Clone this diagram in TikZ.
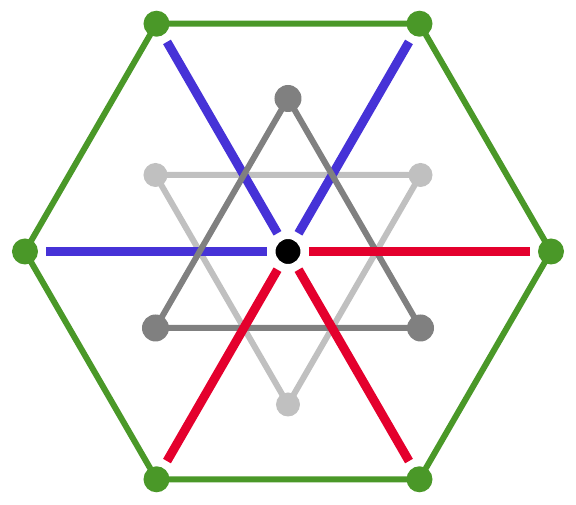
\documentclass[tikz,border=0pt]{standalone}
\usepackage{tikz}
\definecolor{vert}{RGB}{74,152,40}
\definecolor{bleu}{RGB}{70,50,215}
\definecolor{rouge}{RGB}{228,0,45}
\definecolor{grisf}{RGB}{128,128,128}
\definecolor{grisc}{RGB}{192,192,192}
\begin{document}
\begin{tikzpicture}[x=1pt,y=1pt]
\useasboundingbox (-288,-253.5) rectangle (288,251.5);
\draw [line width=6pt, grisc, line join=round] (30:153)--(150:153)--(270:153)--cycle;
\foreach \a in {30,150,270} \fill [grisc] (\a:153) circle (12);
\foreach \a in {60,120,180} \draw [line width=9pt, bleu] (\a:21)--(\a:242);
\draw [line width=6pt, grisf, line join=round] (90:153)--(210:153)--(330:153)--cycle;
\foreach \a in {90,210,330} \fill [grisf] (\a:153) circle (13.5);
\foreach \a in {0,240,300} \draw [line width=9pt, rouge] (\a:21)--(\a:242);
\draw [line width=6pt, vert, line join=round] (0:263)--(60:263)--(120:263)--(180:263)--(240:263)--(300:263)--cycle;
\foreach \a in {0,60,...,300} \fill [vert] (\a:263) circle (13);
\filldraw [black, draw=white, line width=3pt] (0,0) circle (14);
\end{tikzpicture}
\end{document}
